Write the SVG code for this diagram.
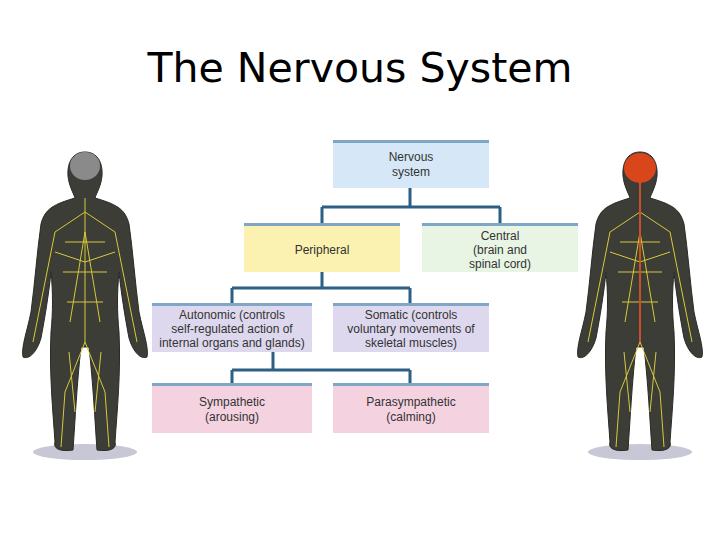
<svg xmlns="http://www.w3.org/2000/svg" width="720" height="540" viewBox="0 0 720 540">
<style>
.t{font-family:"Liberation Sans",Arial,sans-serif;font-size:12px;fill:#333;text-anchor:middle}
.c{stroke:#2c5f86;stroke-width:3;fill:none}
.bar{fill:#7fa6c4}
.body{fill:#3b3d36;stroke:#2a2a26;stroke-width:1}
.nerve{stroke:#d8c93a;stroke-width:1;fill:none}
</style>
<defs>
<g id="fig">
<ellipse cx="60" cy="300" rx="52" ry="8" fill="#c7c7d6"/>
<path class="body" d="M60 0 C72 0 78 10 77 24 C76 34 72 40 70 46 C90 52 100 56 104 72 C108 100 110 130 114 160 C118 180 124 195 122 205 C116 208 108 200 104 186 C100 165 96 140 94 120 C92 140 92 160 94 180 C96 220 92 260 90 290 C92 296 86 300 72 298 C70 270 68 230 64 195 L56 195 C52 230 50 270 48 298 C34 300 28 296 30 290 C28 260 24 220 26 180 C28 160 28 140 26 120 C24 140 20 165 16 186 C12 200 4 208 -2 205 C-4 195 2 180 6 160 C10 130 12 100 16 72 C20 56 30 52 50 46 C48 40 44 34 43 24 C42 10 48 0 60 0 Z"/>
<path class="nerve" d="M60 46 L60 190 M60 60 L30 80 L20 130 L8 190 M60 60 L90 80 L100 130 L112 190 M60 190 L40 240 L36 295 M60 190 L80 240 L84 295 M40 90 L80 90 M38 120 L82 120 M42 150 L78 150 M30 100 L60 110 L90 100 M44 200 L50 260 M76 200 L70 260 M60 80 L45 170 M60 80 L75 170"/>
</g>
</defs>
<text x="360" y="82" font-family="'DejaVu Sans',sans-serif" font-size="40" text-anchor="middle" fill="#000" textLength="425" lengthAdjust="spacingAndGlyphs">The Nervous System</text>
<g id="figure-left" transform="translate(25,152)">
<use href="#fig"/>
<ellipse cx="60" cy="14" rx="15" ry="14" fill="#8a8a8a"/>
</g>
<g id="figure-right" transform="translate(580,152)">
<use href="#fig"/>
<ellipse cx="60" cy="16" rx="16" ry="15" fill="#d9461c"/>
<path d="M60 30 L60 190" stroke="#c8502a" stroke-width="2"/>
</g>
<g id="connectors">
<path class="c" d="M410 188 V207 M322 207 H500 M322 207 V223 M500 207 V223"/>
<path class="c" d="M322 272 V288 M232 288 H410 M232 288 V303 M410 288 V303"/>
<path class="c" d="M273 352 V370 M232 370 H410 M232 370 V383 M410 370 V383"/>
</g>
<g id="nervous"><rect x="333" y="140" width="156" height="48" fill="#d6e7f7"/><rect class="bar" x="333" y="140" width="156" height="3"/><text class="t" x="411" y="161">Nervous</text><text class="t" x="411" y="176">system</text></g>
<g id="peripheral"><rect x="244" y="223" width="156" height="49" fill="#fbf1b0"/><rect class="bar" x="244" y="223" width="156" height="3"/><text class="t" x="322" y="254">Peripheral</text></g>
<g id="central"><rect x="422" y="223" width="156" height="49" fill="#e8f4e4"/><rect class="bar" x="422" y="223" width="156" height="3"/><text class="t" x="500" y="240">Central</text><text class="t" x="500" y="254">(brain and</text><text class="t" x="500" y="268">spinal cord)</text></g>
<g id="autonomic"><rect x="152" y="303" width="160" height="49" fill="#ddd8ee"/><rect class="bar" x="152" y="303" width="160" height="3"/><text class="t" x="232" y="319">Autonomic (controls</text><text class="t" x="232" y="333">self-regulated action of</text><text class="t" x="232" y="347">internal organs and glands)</text></g>
<g id="somatic"><rect x="333" y="303" width="156" height="49" fill="#ddd8ee"/><rect class="bar" x="333" y="303" width="156" height="3"/><text class="t" x="411" y="319">Somatic (controls</text><text class="t" x="411" y="333">voluntary movements of</text><text class="t" x="411" y="347">skeletal muscles)</text></g>
<g id="sympathetic"><rect x="152" y="383" width="160" height="50" fill="#f4d2e0"/><rect class="bar" x="152" y="383" width="160" height="3"/><text class="t" x="232" y="406">Sympathetic</text><text class="t" x="232" y="421">(arousing)</text></g>
<g id="parasympathetic"><rect x="333" y="383" width="156" height="50" fill="#f4d2e0"/><rect class="bar" x="333" y="383" width="156" height="3"/><text class="t" x="411" y="406">Parasympathetic</text><text class="t" x="411" y="421">(calming)</text></g>
</svg>
